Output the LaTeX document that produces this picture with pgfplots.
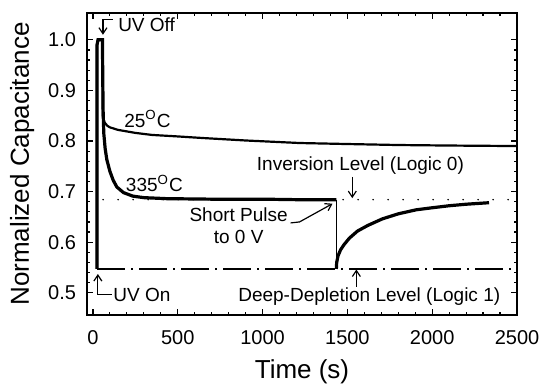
\documentclass[border=0pt]{standalone}
\usepackage{fontspec}
\setmainfont{Liberation Sans}
\usepackage{pgfplots}
\pgfplotsset{compat=1.18}
\usetikzlibrary{arrows.meta}
\newcommand{\ann}{\fontsize{9.5}{11}\selectfont}
\begin{document}
\begin{tikzpicture}
\begin{axis}[
  scale only axis, width=215pt, height=151pt,
  xmin=-35, xmax=2500, ymin=0.456, ymax=1.053,
  xtick={0,500,1000,1500,2000,2500},
  ytick={0.5,0.6,0.7,0.8,0.9,1.0},
  minor x tick num=4, minor y tick num=4,
  tick align=inside, xtick pos=both, ytick pos=both,
  major tick length=3pt, minor tick length=1.6pt,
  every tick/.style={black, line width=0.6pt},
  axis line style={line width=1pt},
  /pgf/number format/assume math mode=true,
  yticklabel style={/pgf/number format/fixed, /pgf/number format/precision=1, /pgf/number format/fixed zerofill, xshift=-2pt},
  xticklabel style={/pgf/number format/set thousands separator={}, yshift=-4pt},
  tick label style={font=\fontsize{10}{12}\selectfont},
  label style={font=\fontsize{13}{15}\selectfont},
  xlabel={Time (s)}, ylabel={Normalized Capacitance},
  xlabel style={at={(axis description cs:0.5,-0.189)}, anchor=center},
  ylabel style={at={(axis description cs:-0.151,0.5)}, anchor=center},
  clip=false,
]
% reference levels
\addplot[line width=0.9pt, line cap=round, dash pattern=on 0pt off 7.5pt] coordinates {(60,0.684) (2500,0.684)};
\addplot[line width=0.9pt, dash pattern=on 14pt off 3pt on 1pt off 3pt] coordinates {(24,0.547) (2500,0.547)};
% 25 C
\addplot[line width=1.1pt] coordinates {
(24,0.547) (24,0.99) (30,1.0) (56,1.0) (58,0.85) (62,0.843) (70,0.836) (85,0.830) (100,0.827)
(147,0.822) (250,0.816) (347,0.812) (500,0.809) (641,0.806) (900,0.801) (1218,0.796)
(1500,0.794) (1806,0.792) (2100,0.791) (2500,0.790)};
% 335 C
\addplot[line width=1.6pt] coordinates {
(24,0.547) (24,0.99) (30,1.0) (56,1.0) (58,0.92) (60,0.86) (64,0.815) (72,0.785) (82,0.763)
(100,0.740) (120,0.722) (141,0.709) (180,0.698) (235,0.691) (300,0.688) (435,0.686)
(700,0.685) (1000,0.685) (1200,0.684) (1435,0.684)};
\addplot[line width=0.6pt] coordinates {(1435,0.684) (1435,0.547)};
\addplot[line width=1.6pt] coordinates {
(1435,0.547) (1437,0.560) (1445,0.573) (1460,0.585) (1480,0.595) (1512,0.608) (1560,0.622)
(1620,0.633) (1706,0.646) (1800,0.656) (1906,0.664) (2000,0.668) (2100,0.672) (2200,0.675) (2335,0.678)};
% annotations
\node[anchor=west, font=\ann, inner sep=0pt] at (axis cs:147,1.030) {UV Off};
\draw[line width=0.6pt, -{Straight Barb[length=3pt,width=4pt]}] (axis cs:118,1.0395) -- (axis cs:59,1.0395) -- (axis cs:59,1.010);
\node[anchor=west, font=\ann, inner sep=0pt] at (axis cs:118,0.496) {UV On};
\draw[line width=0.6pt, -{Straight Barb[length=3pt,width=4pt]}] (axis cs:112,0.496) -- (axis cs:29,0.496) -- (axis cs:29,0.537);
\node[font=\ann] at (axis cs:321,0.843) {25\textsuperscript{O}C};
\node[font=\ann] at (axis cs:362,0.716) {335\textsuperscript{O}C};
\node[font=\ann] at (axis cs:1577,0.751) {Inversion Level (Logic 0)};
\draw[line width=0.6pt, -{Straight Barb[length=3pt,width=4pt]}] (axis cs:1529,0.729) -- (axis cs:1529,0.687);
\node[font=\ann] at (axis cs:1629,0.492) {Deep-Depletion Level (Logic 1)};
\draw[line width=0.6pt, -{Straight Barb[length=3pt,width=4pt]}] (axis cs:1553,0.512) -- (axis cs:1553,0.546);
\node[font=\ann, align=center] at (axis cs:859,0.632) {Short Pulse\\to 0 V};
\draw[line width=0.6pt, -{Straight Barb[length=3pt,width=4pt]}] (axis cs:1165,0.638) -- (axis cs:1218,0.640) -- (axis cs:1412,0.676);
\coordinate (SW) at (rel axis cs:0,0);
\coordinate (NE) at (rel axis cs:1,1);
\end{axis}
\pgfresetboundingbox
\path[use as bounding box] ([shift={(-43.5pt,-36pt)}]SW) rectangle ([shift={(14pt,6.5pt)}]NE);
\end{tikzpicture}
\end{document}
